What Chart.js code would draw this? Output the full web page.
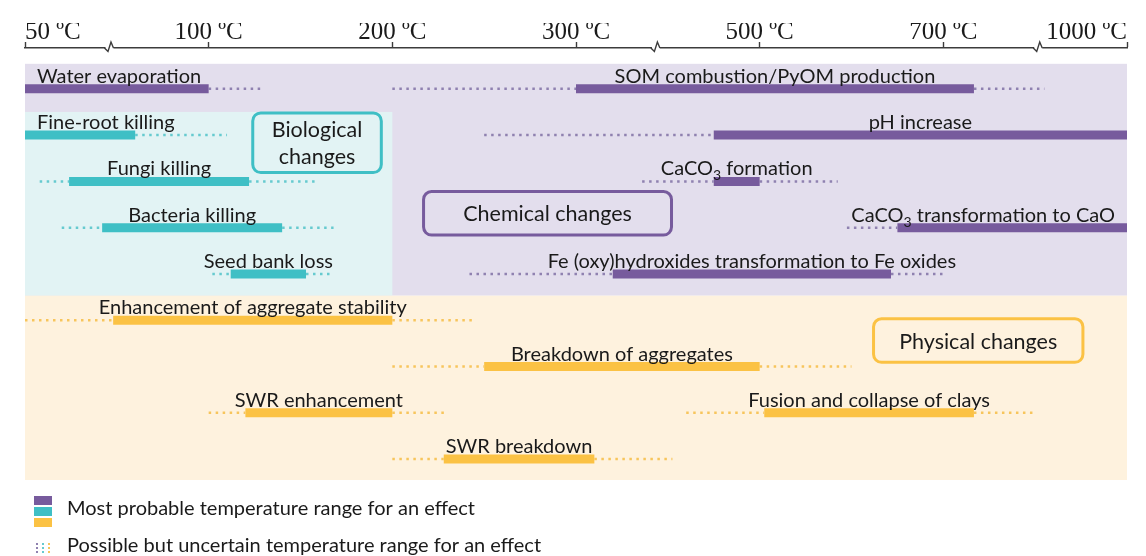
<!DOCTYPE html>
<html>
<head>
<meta charset="utf-8">
<script src="https://cdn.jsdelivr.net/npm/chart.js@4.4.1/dist/chart.umd.min.js"></script>
<style>
  html, body { margin: 0; padding: 0; background: #fff; }
  canvas { display: block; }
</style>
</head>
<body>
<canvas id="fireChart" width="1146" height="556"></canvas>
<script>
// temperature axis: broken scale, every step between ticks gets the same width
const tickTemps = [50, 100, 200, 300, 500, 700, 1000];
const tickLabels = ['50 ºC', '100 ºC', '200 ºC', '300 ºC', '500 ºC', '700 ºC', '1000 ºC'];
const axisBreaks = [73, 387, 855];

// effects of soil heating (ºC)
const effects = [
  'Water evaporation', 'SOM combustion/PyOM production',
  'Fine-root killing', 'pH increase',
  'Fungi killing', 'CaCO_3 formation',
  'Bacteria killing', 'CaCO_3 transformation to CaO',
  'Seed bank loss', 'Fe (oxy)hydroxides transformation to Fe oxides',
  'Enhancement of aggregate stability',
  'Breakdown of aggregates',
  'SWR enhancement', 'Fusion and collapse of clays',
  'SWR breakdown'
];
const effectGroup = [
  'chemical', 'chemical',
  'biological', 'chemical',
  'biological', 'chemical',
  'biological', 'chemical',
  'biological', 'chemical',
  'physical',
  'physical',
  'physical', 'physical',
  'physical'
];
const effectRow = [0, 0, 1, 1, 2, 2, 3, 3, 4, 4, 5, 6, 7, 7, 8];
const uncertainFrom = [null, 200, null, 250, 54, 372, 60, 595, 102, 242, 50, 200, 100, 420, 200];
const probableFrom  = [50, 300, 50, 450, 62, 450, 71, 650, 112, 340, 74, 250, 120, 505, 228];
const probableTo    = [100, 750, 80, 1000, 122, 500, 140, 1000, 153, 643, 200, 500, 200, 750, 320];
const uncertainTo   = [130, 865, 110, null, 160, 585, 168, null, 168, 700, 244, 600, 230, 850, 405];

const colors = {
  chemical:   { bar: '#775b9d', dots: '#8f81b0', bg: '#e3deed' },
  biological: { bar: '#3fbfc5', dots: '#66cacf', bg: '#e2f3f4' },
  physical:   { bar: '#fbc244', dots: '#f7c55c', bg: '#fef2de' }
};

// shaded groups and their caption boxes (temperature / row units)
const regions = [
  { group: 'chemical',   from: 50, to: 1000, top: -0.54, bottom: 4.47 },
  { group: 'biological', from: 50, to: 200,  top: 0.5,   bottom: 4.47 },
  { group: 'physical',   from: 50, to: 1000, top: 4.47,  bottom: 8.452 }
];
const captions = [
  { group: 'biological', lines: ['Biological', 'changes'], from: 124, to: 194, top: 0.52, bottom: 1.81 },
  { group: 'chemical',   lines: ['Chemical changes'],      from: 217, to: 404, top: 2.22, bottom: 3.16 },
  { group: 'physical',   lines: ['Physical changes'],      from: 624, to: 928, top: 4.97, bottom: 5.91 }
];

const textColor = '#1a1a1a';
const axisColor = '#3c3c3c';
const labelFont = '20px Lato';
const subFont = '14px Lato';

function toPos(t) {
  for (let i = 0; i < tickTemps.length - 1; i++) {
    if (t <= tickTemps[i + 1]) {
      return i + (t - tickTemps[i]) / (tickTemps[i + 1] - tickTemps[i]);
    }
  }
  return tickTemps.length - 1;
}

function segment(from, to, row, style) {
  return {
    data: [{ x: toPos(from), y: row }, { x: toPos(to), y: row }],
    pointRadius: 0,
    tension: 0,
    fill: false,
    ...style
  };
}

const datasets = [];
effects.forEach((name, i) => {
  const c = colors[effectGroup[i]];
  const row = effectRow[i];
  const dotted = { borderColor: c.dots, borderWidth: 2.5, borderDash: [2.5, 4.5], borderCapStyle: 'butt' };
  if (uncertainFrom[i] != null) datasets.push(segment(uncertainFrom[i], probableFrom[i], row, dotted));
  datasets.push(segment(probableFrom[i], probableTo[i], row, { label: name, borderColor: c.bar, borderWidth: 9, borderCapStyle: 'butt' }));
  if (uncertainTo[i] != null) datasets.push(segment(probableTo[i], uncertainTo[i], row, dotted));
});

// text with "_3" style subscripts
function richParts(text) {
  return text.split(/_(\d)/).map((s, k) => ({ s, sub: k % 2 === 1 }));
}
function richWidth(ctx, text) {
  let w = 0;
  richParts(text).forEach(p => {
    ctx.font = p.sub ? subFont : labelFont;
    w += ctx.measureText(p.s).width;
  });
  return w;
}
function drawRich(ctx, text, x, y) {
  richParts(text).forEach(p => {
    ctx.font = p.sub ? subFont : labelFont;
    ctx.fillText(p.s, x, p.sub ? y + 5 : y);
    x += ctx.measureText(p.s).width;
  });
}

function roundRect(ctx, x, y, w, h, r) {
  ctx.beginPath();
  ctx.moveTo(x + r, y);
  ctx.arcTo(x + w, y, x + w, y + h, r);
  ctx.arcTo(x + w, y + h, x, y + h, r);
  ctx.arcTo(x, y + h, x, y, r);
  ctx.arcTo(x, y, x + w, y, r);
  ctx.closePath();
}

const groupShading = {
  id: 'groupShading',
  beforeDatasetsDraw(chart) {
    const { ctx, scales: { x, y } } = chart;
    ctx.save();
    regions.forEach(r => {
      const x0 = x.getPixelForValue(toPos(r.from)), x1 = x.getPixelForValue(toPos(r.to));
      const y0 = y.getPixelForValue(r.top), y1 = y.getPixelForValue(r.bottom);
      ctx.fillStyle = colors[r.group].bg;
      ctx.fillRect(x0, y0, x1 - x0, y1 - y0);
    });
    ctx.restore();
  }
};

const effectLabels = {
  id: 'effectLabels',
  afterDatasetsDraw(chart) {
    const { ctx, chartArea, scales: { x, y } } = chart;
    ctx.save();
    ctx.fillStyle = textColor;
    ctx.textAlign = 'left';
    ctx.textBaseline = 'alphabetic';
    effects.forEach((name, i) => {
      const x0 = x.getPixelForValue(toPos(probableFrom[i]));
      const x1 = x.getPixelForValue(toPos(probableTo[i]));
      const w = richWidth(ctx, name);
      let cx = (x0 + x1) / 2;
      cx = Math.max(chartArea.left + 12 + w / 2, Math.min(chartArea.right - 12 - w / 2, cx));
      drawRich(ctx, name, cx - w / 2, y.getPixelForValue(effectRow[i]) - 6);
    });

    // caption boxes
    captions.forEach(b => {
      const x0 = x.getPixelForValue(toPos(b.from)), x1 = x.getPixelForValue(toPos(b.to));
      const y0 = y.getPixelForValue(b.top), y1 = y.getPixelForValue(b.bottom);
      ctx.lineWidth = 3;
      ctx.strokeStyle = colors[b.group].bar;
      roundRect(ctx, x0, y0, x1 - x0, y1 - y0, 8);
      ctx.stroke();
      ctx.fillStyle = textColor;
      ctx.font = '21.5px Lato';
      ctx.textAlign = 'center';
      ctx.textBaseline = 'middle';
      const lh = 27;
      const cy = (y0 + y1) / 2 - (b.lines.length - 1) * lh / 2;
      b.lines.forEach((t, k) => ctx.fillText(t, (x0 + x1) / 2, cy + k * lh + 1));
    });
    ctx.restore();
  }
};

const axisExtras = {
  id: 'axisExtras',
  afterDraw(chart) {
    const { ctx, chartArea, scales: { x } } = chart;
    const top = chartArea.top;
    ctx.save();
    // break marks on the temperature axis
    axisBreaks.forEach(t => {
      const bx = x.getPixelForValue(toPos(t));
      ctx.fillStyle = '#fff';
      ctx.fillRect(bx - 4, top - 2, 8, 4);
      ctx.strokeStyle = axisColor;
      ctx.lineWidth = 1.4;
      ctx.beginPath();
      ctx.moveTo(bx - 5, top);
      ctx.lineTo(bx - 1.5, top + 3.5);
      ctx.lineTo(bx + 1.5, top - 6);
      ctx.lineTo(bx + 4, top);
      ctx.stroke();
    });

    // legend
    const lx = 34, ly = chartArea.bottom + 16;
    ['chemical', 'biological', 'physical'].forEach((g, k) => {
      ctx.fillStyle = colors[g].bar;
      ctx.fillRect(lx, ly + k * 11, 18, 9);
    });
    ['chemical', 'biological', 'physical'].forEach((g, k) => {
      ctx.fillStyle = colors[g].dots;
      for (let d = 0; d < 3; d++) ctx.fillRect(lx + 2 + k * 6, ly + 47 + d * 4, 2, 2);
    });
    ctx.fillStyle = textColor;
    ctx.font = labelFont;
    ctx.textAlign = 'left';
    ctx.textBaseline = 'middle';
    ctx.fillText('Most probable temperature range for an effect', 67, ly + 13);
    ctx.fillText('Possible but uncertain temperature range for an effect', 67, ly + 50);
    ctx.restore();
  }
};

new Chart(document.getElementById('fireChart'), {
  type: 'line',
  data: { datasets },
  options: {
    responsive: false,
    animation: false,
    devicePixelRatio: 1,
    layout: { padding: { left: 25, right: 19, top: 23, bottom: 76 } },
    plugins: { legend: { display: false }, tooltip: { enabled: false } },
    scales: {
      x: {
        type: 'linear',
        position: 'top',
        min: 0,
        max: tickTemps.length - 1,
        grid: { drawOnChartArea: false, tickLength: 6, color: axisColor, tickWidth: 1.4 },
        border: { color: axisColor, width: 1.4 },
        ticks: {
          stepSize: 1,
          autoSkip: false,
          maxRotation: 0,
          align: 'inner',
          padding: -3,
          color: textColor,
          font: { family: 'Liberation Serif', size: 25, lineHeight: 1 },
          callback: v => tickLabels[v]
        }
      },
      y: {
        type: 'linear',
        display: false,
        reverse: true,
        min: -0.8817,
        max: 8.452
      }
    }
  },
  plugins: [groupShading, effectLabels, axisExtras]
});
</script>
</body>
</html>
